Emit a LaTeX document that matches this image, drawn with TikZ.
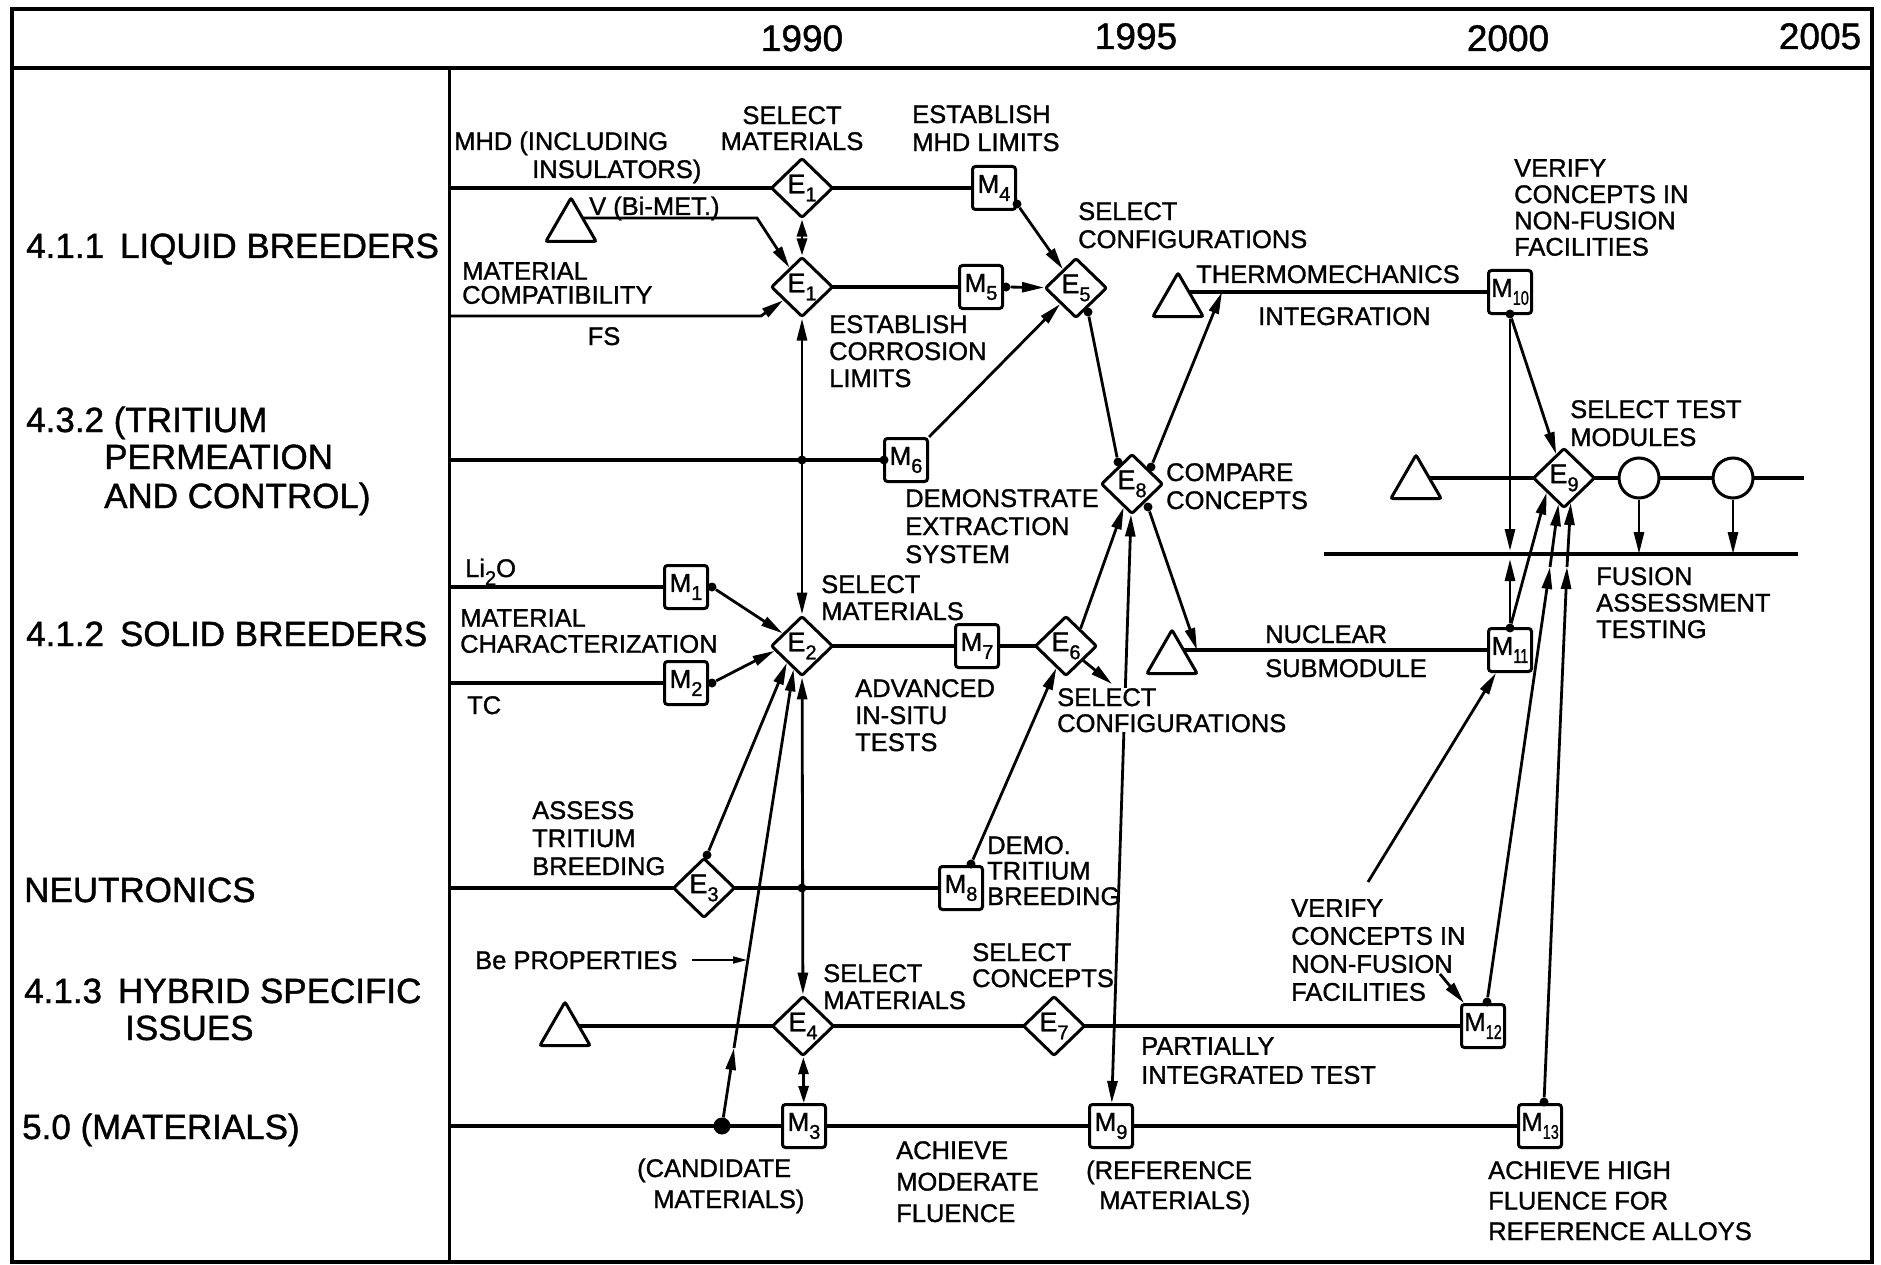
\documentclass[tikz,border=0pt]{standalone}
\usepackage{fontspec}
\setmainfont{Liberation Sans}[FakeBold=1.2]
\usetikzlibrary{shapes.geometric,arrows.meta,backgrounds}
\newcommand\lsub[1]{\raisebox{-8pt}{\fontsize{20}{20}\selectfont #1}}
\newcommand\lsubb[1]{\raisebox{-8pt}{\scalebox{0.72}[1]{\fontsize{20}{20}\selectfont #1}}}
\begin{document}
\begin{tikzpicture}[x=1pt,y=-1pt,
  row/.style={line width=3.4pt},
  con/.style={line width=2.8pt},
  arr/.style={con,-{Triangle[length=22pt,width=10pt]}},
  darr/.style={con,{Triangle[length=22pt,width=10pt]}-{Triangle[length=22pt,width=10pt]}},
  sdarr/.style={con,{Triangle[length=17pt,width=10pt]}-{Triangle[length=17pt,width=10pt]}},
  dmd/.style={diamond,draw,fill=white,line width=3pt,minimum width=62pt,minimum height=60pt,inner sep=0pt,rounded corners=2pt,font=\fontsize{27}{27}\selectfont},
  mbox/.style={rectangle,draw,fill=white,line width=3pt,minimum size=43pt,rounded corners=3pt,inner sep=0pt,font=\fontsize{26}{26}\selectfont},
  circ/.style={circle,draw,fill=white,line width=3pt,minimum size=40pt,inner sep=0pt},
  tri/.style={regular polygon,regular polygon sides=3,draw,fill=white,line width=3pt,minimum size=58pt,inner sep=0pt,rounded corners=2pt},
  dotn/.style={circle,fill=black,inner sep=0pt,minimum size=9pt},
  bigdot/.style={circle,fill=black,inner sep=0pt,minimum size=17pt},
  lab/.style={font=\fontsize{25.5}{27}\selectfont,inner sep=0pt,align=left,anchor=north west},
  lsp/.style={font=\fontsize{25.5}{#1}\selectfont},
  slab/.style={font=\fontsize{25.5}{27}\selectfont,inner sep=0pt,anchor=base west},
  sec/.style={font=\fontsize{35}{38}\selectfont,inner sep=0pt,anchor=base west},
  yr/.style={font=\fontsize{37}{37}\selectfont,inner sep=0pt,anchor=base},
]
\useasboundingbox (0,0) rectangle (1881,1265);

% frame, header and the left column
\draw[line width=3.5pt] (12,9) rectangle (1872,1262);
\draw[line width=3.5pt] (12,68) -- (1872,68);
\draw[line width=3pt] (449,68) -- (449,1262);

% years
\node[yr] (y90) at (802,51) {1990};
\node[yr] (y95) at (1136,49) {1995};
\node[yr] (y00) at (1508,51) {2000};
\node[yr] (y05) at (1820,49) {2005};

% task areas
\node[sec] (s1) at (26,258) {4.1.1\hspace{16pt}LIQUID BREEDERS};
\node[sec] (s2) at (26,432) {4.3.2 (TRITIUM};
\node[sec] (s2b) at (104,469) {PERMEATION};
\node[sec] (s2c) at (104,508) {AND CONTROL)};
\node[sec] (s3) at (26,646) {4.1.2\hspace{16pt}SOLID BREEDERS};
\node[sec] (s4) at (24,902) {NEUTRONICS};
\node[sec] (s5) at (24,1003) {4.1.3\hspace{16pt}HYBRID SPECIFIC};
\node[sec] (s5b) at (125,1040) {ISSUES};
\node[sec] (s6) at (22,1139) {5.0 (MATERIALS)};

% decision points
\node[dmd] (E1a) at (802,188) {E\lsub{1}};
\node[dmd] (E1b) at (802,287) {E\lsub{1}};
\node[dmd] (E5) at (1076,288) {E\lsub{5}};
\node[dmd] (E8) at (1132,484) {E\lsub{8}};
\node[dmd] (E9) at (1564,478) {E\lsub{9}};
\node[dmd] (E2) at (802,646) {E\lsub{2}};
\node[dmd] (E6) at (1066,646) {E\lsub{6}};
\node[dmd] (E3) at (704,888) {E\lsub{3}};
\node[dmd] (E4) at (803,1026) {E\lsub{4}};
\node[dmd] (E7) at (1054,1026) {E\lsub{7}};

% milestones
\node[mbox] (M4) at (994,188) {M\lsub{4}};
\node[mbox] (M5) at (981,287) {M\lsub{5}};
\node[mbox] (M6) at (906,460) {M\lsub{6}};
\node[mbox] (M1) at (686,587) {M\lsub{1}};
\node[mbox] (M2) at (686,683) {M\lsub{2}};
\node[mbox] (M7) at (977,646) {M\lsub{7}};
\node[mbox] (M8) at (961,888) {M\lsub{8}};
\node[mbox] (M10) at (1510,292) {M\lsubb{10}};
\node[mbox] (M11) at (1510,650) {M\lsubb{11}};
\node[mbox] (M12) at (1483,1026) {M\lsubb{12}};
\node[mbox] (M3) at (804,1126) {M\lsub{3}};
\node[mbox] (M9) at (1111,1126) {M\lsub{9}};
\node[mbox] (M13) at (1540,1126) {M\lsubb{13}};

% test modules
\node[circ] (C1) at (1639,478) {};
\node[circ] (C2) at (1733,478) {};

% starting points
\node[tri] (TV) at (571,227) {};
\node[tri] (TT) at (1178,302) {};
\node[tri] (TE) at (1416,484) {};
\node[tri] (TN) at (1172,659) {};
\node[tri] (TH) at (565,1031) {};

% dots
\node[dotn] (d4) at (1017,204) {};
\node[dotn] (d5) at (1006,287) {};
\node[dotn] (d5b) at (1088,312) {};
\node[dotn] (d8a) at (1118,462) {};
\node[dotn] (d8b) at (1151,467) {};
\node[dotn] (d8c) at (1148,507) {};
\node[dotn] (d6) at (884,460) {};
\node[dotn] (j1) at (802,460) {};
\node[dotn] (j2) at (802,888) {};
\node[dotn] (d1) at (712,587) {};
\node[dotn] (d2) at (712,683) {};
\node[dotn] (d3) at (707,855) {};
\node[dotn] (d8) at (971,864) {};
\node[dotn] (d10) at (1510,314) {};
\node[dotn] (d11) at (1510,628) {};
\node[dotn] (d12) at (1487,1002) {};
\node[dotn] (d13) at (1544,1102) {};
\node[bigdot] (big) at (722,1126) {};

% free ends and bends
\coordinate (r1) at (449,188);
\coordinate (r3) at (449,316);
\coordinate (r6) at (449,460);
\coordinate (r8) at (449,587);
\coordinate (r9) at (449,683);
\coordinate (r13) at (449,888);
\coordinate (r15) at (449,1126);
\coordinate (vK) at (757,218);
\coordinate (fK) at (761,316);
\coordinate (tmA) at (1222,292);
\coordinate (nuA) at (1197,650);
\coordinate (e6s) at (1112,684);
\coordinate (cm) at (734,1048);
\coordinate (beA) at (692,960);
\coordinate (beB) at (747,960);
\coordinate (vfA) at (1368,882);
\coordinate (vfB) at (1440,974);
\coordinate (fuL) at (1324,554);
\coordinate (fuR) at (1798,554);
\coordinate (e9R) at (1804,478);
\coordinate (fu10) at (1510,551);
\coordinate (fu11) at (1510,559);
\coordinate (m12a) at (1550,567);
\coordinate (m13a) at (1567,567);

% labels
\node[slab] (l1) at (454,150) {MHD (INCLUDING};
\node[slab] (l1b) at (532,178) {INSULATORS)};
\node[lab,lsp=26,align=center,anchor=north] (l2) at (792,106) {SELECT\\MATERIALS};
\node[lab,lsp=28] (l3) at (912,105) {ESTABLISH\\MHD LIMITS};
\node[slab] (l4) at (589,215) {V (Bi-MET.)};
\node[lab,lsp=24] (l5) at (462,262) {MATERIAL\\COMPATIBILITY};
\node[slab,anchor=base] (l6) at (604,345) {FS};
\node[lab,lsp=27] (l7) at (829,315) {ESTABLISH\\CORROSION\\LIMITS};
\node[lab,lsp=28] (l8) at (1078,202) {SELECT\\CONFIGURATIONS};
\node[slab] (l9) at (1196,283) {THERMOMECHANICS};
\node[slab] (l10) at (1258,325) {INTEGRATION};
\node[lab,lsp=26.3] (l11) at (1514,159) {VERIFY\\CONCEPTS IN\\NON-FUSION\\FACILITIES};
\node[lab,lsp=28] (l12) at (905,489) {DEMONSTRATE\\EXTRACTION\\SYSTEM};
\node[lab,lsp=28] (l13) at (1166,463) {COMPARE\\CONCEPTS};
\node[lab,lsp=28] (l14) at (1570,400) {SELECT TEST\\MODULES};
\node[slab] (l15) at (465,577) {Li\lsub{2}O};
\node[lab,lsp=26] (l16) at (460,609) {MATERIAL\\CHARACTERIZATION};
\node[slab] (l17) at (467,714) {TC};
\node[lab,lsp=27] (l18) at (821,575) {SELECT\\MATERIALS};
\node[lab,lsp=27] (l19) at (855,679) {ADVANCED\\IN-SITU\\TESTS};
\node[lab,lsp=26,fill=white] (l20) at (1057,688) {SELECT\\CONFIGURATIONS};
\node[slab] (l21) at (1265,643) {NUCLEAR};
\node[slab] (l21b) at (1265,677) {SUBMODULE};
\node[lab,lsp=26.5] (l22) at (1596,567) {FUSION\\ASSESSMENT\\TESTING};
\node[lab,lsp=28] (l23) at (532,801) {ASSESS\\TRITIUM\\BREEDING};
\node[lab,lsp=25.5] (l24) at (987,836) {DEMO.\\TRITIUM\\BREEDING};
\node[slab] (l25) at (475,969) {Be PROPERTIES};
\node[lab,lsp=27] (l26) at (823,964) {SELECT\\MATERIALS};
\node[lab,lsp=26] (l27) at (972,943) {SELECT\\CONCEPTS};
\node[lab,lsp=28] (l28) at (1291,899) {VERIFY\\CONCEPTS IN\\NON-FUSION\\FACILITIES};
\node[lab,lsp=29] (l29) at (1141,1037) {PARTIALLY\\INTEGRATED TEST};
\node[slab] (l30) at (637,1177) {(CANDIDATE};
\node[slab] (l30b) at (653,1208) {MATERIALS)};
\node[lab,lsp=31.5] (l31) at (896,1141) {ACHIEVE\\MODERATE\\FLUENCE};
\node[slab] (l32) at (1086,1179) {(REFERENCE};
\node[slab] (l32b) at (1099,1209) {MATERIALS)};
\node[lab,lsp=30.5] (l33) at (1488,1161) {ACHIEVE HIGH\\FLUENCE FOR\\REFERENCE ALLOYS};

% connectors, kept beneath the symbols
\begin{scope}[on background layer]
\draw[row] (r1) -- (M4.center);
\draw[row] (E1b.center) -- (M5.center);
\draw[arr] ([yshift=9pt]TV.center) -- (vK) -- (E1b);
\draw[arr] (r3) -- (fK) -- (E1b);
\draw[row] ([yshift=10pt]TT.center) -- (M10.center);
\draw[row] (r6) -- (M6.center);
\draw[row] ([yshift=6pt]TE.center) -- (e9R);
\draw[row] (r8) -- (M1.center);
\draw[row] (r9) -- (M2.center);
\draw[row] (E2.center) -- (E6.center);
\draw[row] ([yshift=9pt]TN.center) -- (M11.center);
\draw[row] (fuL) -- (fuR);
\draw[row] (r13) -- (M8.center);
\draw[row] ([yshift=5pt]TH.center) -- (M12.center);
\draw[row] (r15) -- (M13.center);

\draw[sdarr] (E1a) -- (E1b);
\draw[darr] (E1b) -- (E2);
\draw[darr] (E2) -- (E4);
\draw[sdarr] (E4) -- (M3);
\draw[arr] (d4) -- (E5);
\draw[arr] (d5) -- (E5);
\draw[arr] (M6.north east) -- (E5);
\draw[con] (d5b) -- (d8a);
\draw[arr] (d8b) -- (tmA);
\draw[arr] (d8c) -- (nuA);
\draw[arr] (E6.50) -- (E8);
\draw[arr] (E6.320) -- (e6s);
\draw[darr] (E8) -- (M9);
\draw[arr] (d1) -- (E2);
\draw[arr] (d2) -- (E2.190);
\draw[arr] (d3) -- (E2.228);
\draw[arr] (big) -- (cm);
\draw[arr] (cm) -- (E2.250);
\draw[line width=1.6pt,-{Triangle[length=14pt,width=7pt]}] (beA) -- (beB);
\draw[arr] (d8) -- (E6);
\draw[arr] (vfA) -- (M11);
\draw[arr] (vfB) -- (M12);
\draw[arr] (d10) -- (fu10);
\draw[arr] (d10) -- (E9);
\draw[arr] (d11) -- (fu11);
\draw[arr] (d11) -- (E9.220);
\draw[arr] (d12) -- (m12a);
\draw[arr] (m12a) -- (E9.258);
\draw[arr] (d13) -- (m13a);
\draw[arr] (m13a) -- (E9.285);
\draw[arr] (C1.south) -- (C1.south |- fuL);
\draw[arr] (C2.south) -- (C2.south |- fuL);
\end{scope}
\end{tikzpicture}
\end{document}
